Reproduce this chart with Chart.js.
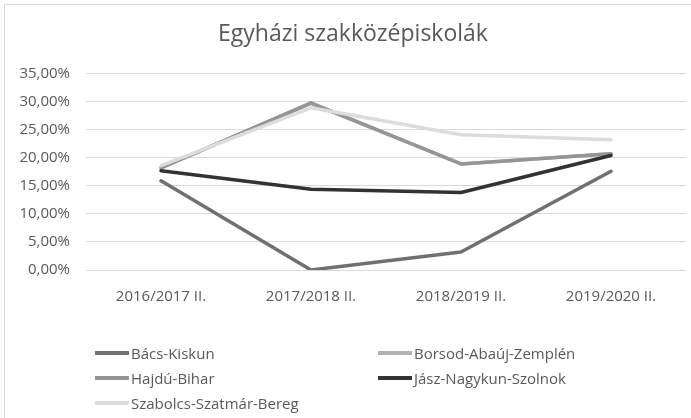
<!DOCTYPE html>
<html>
<head>
<meta charset="utf-8">
<script src="https://cdn.jsdelivr.net/npm/chart.js@4"></script>
<style>
  html, body { margin: 0; padding: 0; background: #fff; overflow: hidden; }
  #wrap { position: relative; width: 691px; height: 418px; }
  #frame { position: absolute; left: 4px; top: 4px; width: 800px; height: 800px; border: 1px solid #d9d9d9; box-sizing: border-box; }
  #myChart { position: absolute; left: 0; top: 0; }
  .leg { position: absolute; font: 15px "Open Sans", sans-serif; color: #595959; white-space: nowrap; line-height: 20px; }
  .leg span { position: absolute; top: 8px; height: 4px; width: 34px; }
</style>
</head>
<body>
<div id="wrap">
  <div id="frame"></div>
  <canvas id="myChart" width="691" height="418"></canvas>
  <div id="legend"></div>
</div>
<script>
const labels = ['2016/2017 II.', '2017/2018 II.', '2018/2019 II.', '2019/2020 II.'];
const seriesNames = ['Bács-Kiskun', 'Borsod-Abaúj-Zemplén', 'Hajdú-Bihar', 'Jász-Nagykun-Szolnok', 'Szabolcs-Szatmár-Bereg'];
const bacsKiskun = [15.9, 0.0, 3.2, 17.6];
const borsod = [18.2, 29.7, 18.9, 20.7];
const hajduBihar = [18.2, 29.8, 18.9, 20.7];
const jaszNagykun = [17.7, 14.4, 13.8, 20.4];
const szabolcs = [18.6, 28.9, 24.1, 23.2];
const yTicks = [0, 5, 10, 15, 20, 25, 30, 35];
const colors = ['#707070', '#b3b3b3', '#959595', '#333333', '#dcdcdc'];

const allSeries = [bacsKiskun, borsod, hajduBihar, jaszNagykun, szabolcs];
const font = 'Open Sans';

const ctx = document.getElementById('myChart');
const myChart = new Chart(ctx, {
   type: 'line',
   data: {
      labels: labels,
      datasets: allSeries.map((vals, i) => ({
         label: seriesNames[i],
         data: vals,
         borderColor: colors[i],
         backgroundColor: colors[i],
         borderWidth: 3.5,
         pointRadius: 0,
         tension: 0,
         borderCapStyle: 'round',
         borderJoinStyle: 'round',
         order: allSeries.length - i
      }))
   },
   options: {
      responsive: false,
      animation: false,
      layout: { padding: { left: 20, right: 5, top: 0, bottom: 100 } },
      scales: {
         x: {
            offset: true,
            grid: { display: false, drawTicks: false },
            border: { display: false },
            ticks: { color: '#595959', font: { family: font, size: 15 }, padding: 18, maxRotation: 0 },
            afterFit: (s) => { s.height = 48; }
         },
         y: {
            min: 0,
            max: 35,
            afterBuildTicks: (s) => { s.ticks = yTicks.map(v => ({ value: v })); },
            grid: { color: '#d9d9d9', lineWidth: 1, drawTicks: false },
            border: { display: false },
            ticks: {
               color: '#595959',
               font: { family: font, size: 15 },
               padding: 16,
               callback: (v) => v.toFixed(2).replace('.', ',') + '%'
            },
            afterFit: (s) => { s.width = 66; }
         }
      },
      plugins: {
         legend: { display: false },
         tooltip: { enabled: false },
         title: {
            display: true,
            text: 'Egyházi szakközépiskolák',
            color: '#595959',
            font: { family: font, size: 23, weight: 'normal' },
            padding: { top: 21, bottom: 25 }
         }
      }
   }
});

// legend in two columns, like the original
const legendPos = [[95, 343], [378, 343], [95, 368], [378, 368], [95, 393]];
const legendEl = document.getElementById('legend');
seriesNames.forEach((name, i) => {
   const d = document.createElement('div');
   d.className = 'leg';
   d.style.left = legendPos[i][0] + 'px';
   d.style.top = legendPos[i][1] + 'px';
   d.innerHTML = '<span style="left:0;background:' + colors[i] + '"></span><div style="margin-left:36px">' + name + '</div>';
   legendEl.appendChild(d);
});
</script>
</body>
</html>
